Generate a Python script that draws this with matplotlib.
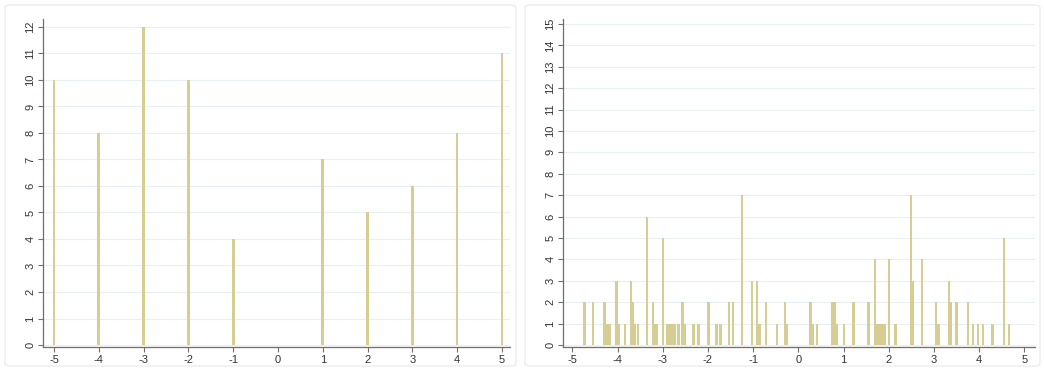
import matplotlib.pyplot as plt
from matplotlib.patches import FancyBboxPatch

# left panel: counts at integer values
x_left = [-5, -4, -3, -2, -1, 0, 1, 2, 3, 4, 5]
h_left = [10, 8, 12, 10, 4, 0, 7, 5, 6, 8, 11]

# right panel: counts at non-integer values
x_right = [-4.73, -4.54, -4.29, -4.22, -4.18, -4.02, -3.97, -3.83, -3.70, -3.65,
           -3.61, -3.55, -3.35, -3.22, -3.18, -3.12, -2.99, -2.90, -2.85, -2.80,
           -2.74, -2.65, -2.56, -2.51, -2.32, -2.21, -1.99, -1.81, -1.72, -1.53,
           -1.44, -1.24, -1.02, -0.91, -0.86, -0.72, -0.48, -0.29, -0.25, 0.27,
           0.33, 0.41, 0.74, 0.80, 0.85, 1.01, 1.22, 1.55, 1.70, 1.75,
           1.80, 1.86, 1.91, 2.01, 2.15, 2.49, 2.53, 2.73, 3.05, 3.10,
           3.33, 3.38, 3.50, 3.76, 3.86, 3.98, 4.09, 4.28, 4.31, 4.55, 4.66]
h_right = [2, 2, 2, 1, 1, 3, 1, 1, 3, 2,
           1, 1, 6, 2, 1, 1, 5, 1, 1, 1,
           1, 1, 2, 1, 1, 1, 2, 1, 1, 2,
           2, 7, 3, 3, 1, 2, 1, 2, 1, 2,
           1, 1, 2, 2, 1, 1, 2, 2, 4, 1,
           1, 1, 1, 4, 1, 7, 3, 4, 2, 1,
           3, 2, 2, 2, 1, 1, 1, 1, 1, 5, 1]

xticks = list(range(-5, 6))
bar_color = '#d6cd93'
grid_color = '#e6f0f2'
axis_color = '#6e6e6e'

plt.rcParams['font.family'] = ['Liberation Sans', 'DejaVu Sans']
plt.rcParams['axes.unicode_minus'] = False

W, H = 1044, 371
fig = plt.figure(figsize=(W / 100, H / 100), dpi=100)

# faint panel frames
for x0, x1 in [(5, 516), (525, 1040)]:
    fig.patches.append(FancyBboxPatch((x0 / W, 5 / H), (x1 - x0) / W, 361 / H,
                                      boxstyle='round,pad=0,rounding_size=0.006',
                                      transform=fig.transFigure, facecolor='none',
                                      edgecolor='#e6eaeb', linewidth=0.8))


def make_axes(left, right, xlim, ylim, yticks):
    ax = fig.add_axes([left / W, (H - 347) / H, (right - left) / W, (347 - 19) / H])
    ax.set_xlim(*xlim)
    ax.set_ylim(*ylim)
    ax.set_xticks(xticks)
    ax.set_yticks(yticks)
    ax.grid(True, axis='y', color=grid_color, linewidth=0.8)
    ax.set_axisbelow(True)
    for s in ['top', 'right']:
        ax.spines[s].set_visible(False)
    for s in ['left', 'bottom']:
        ax.spines[s].set_color(axis_color)
        ax.spines[s].set_linewidth(0.9)
    ax.tick_params(direction='out', length=3.5, width=0.8, color=axis_color,
                   labelsize=8, labelcolor='#333333', pad=2)
    for lab in ax.get_yticklabels():
        lab.set_rotation(90)
        lab.set_va('center')
    return ax


ax1 = make_axes(43, 510, (-5.246, 5.18), (-0.075, 12.3), range(0, 13))
ax1.bar(x_left, h_left, width=0.06, color=bar_color, linewidth=0)

ax2 = make_axes(563, 1035, (-5.206, 5.235), (-0.094, 15.23), range(0, 16))
ax2.bar(x_right, h_right, width=0.05, color=bar_color, linewidth=0)

fig.savefig('out.png', dpi=100)
